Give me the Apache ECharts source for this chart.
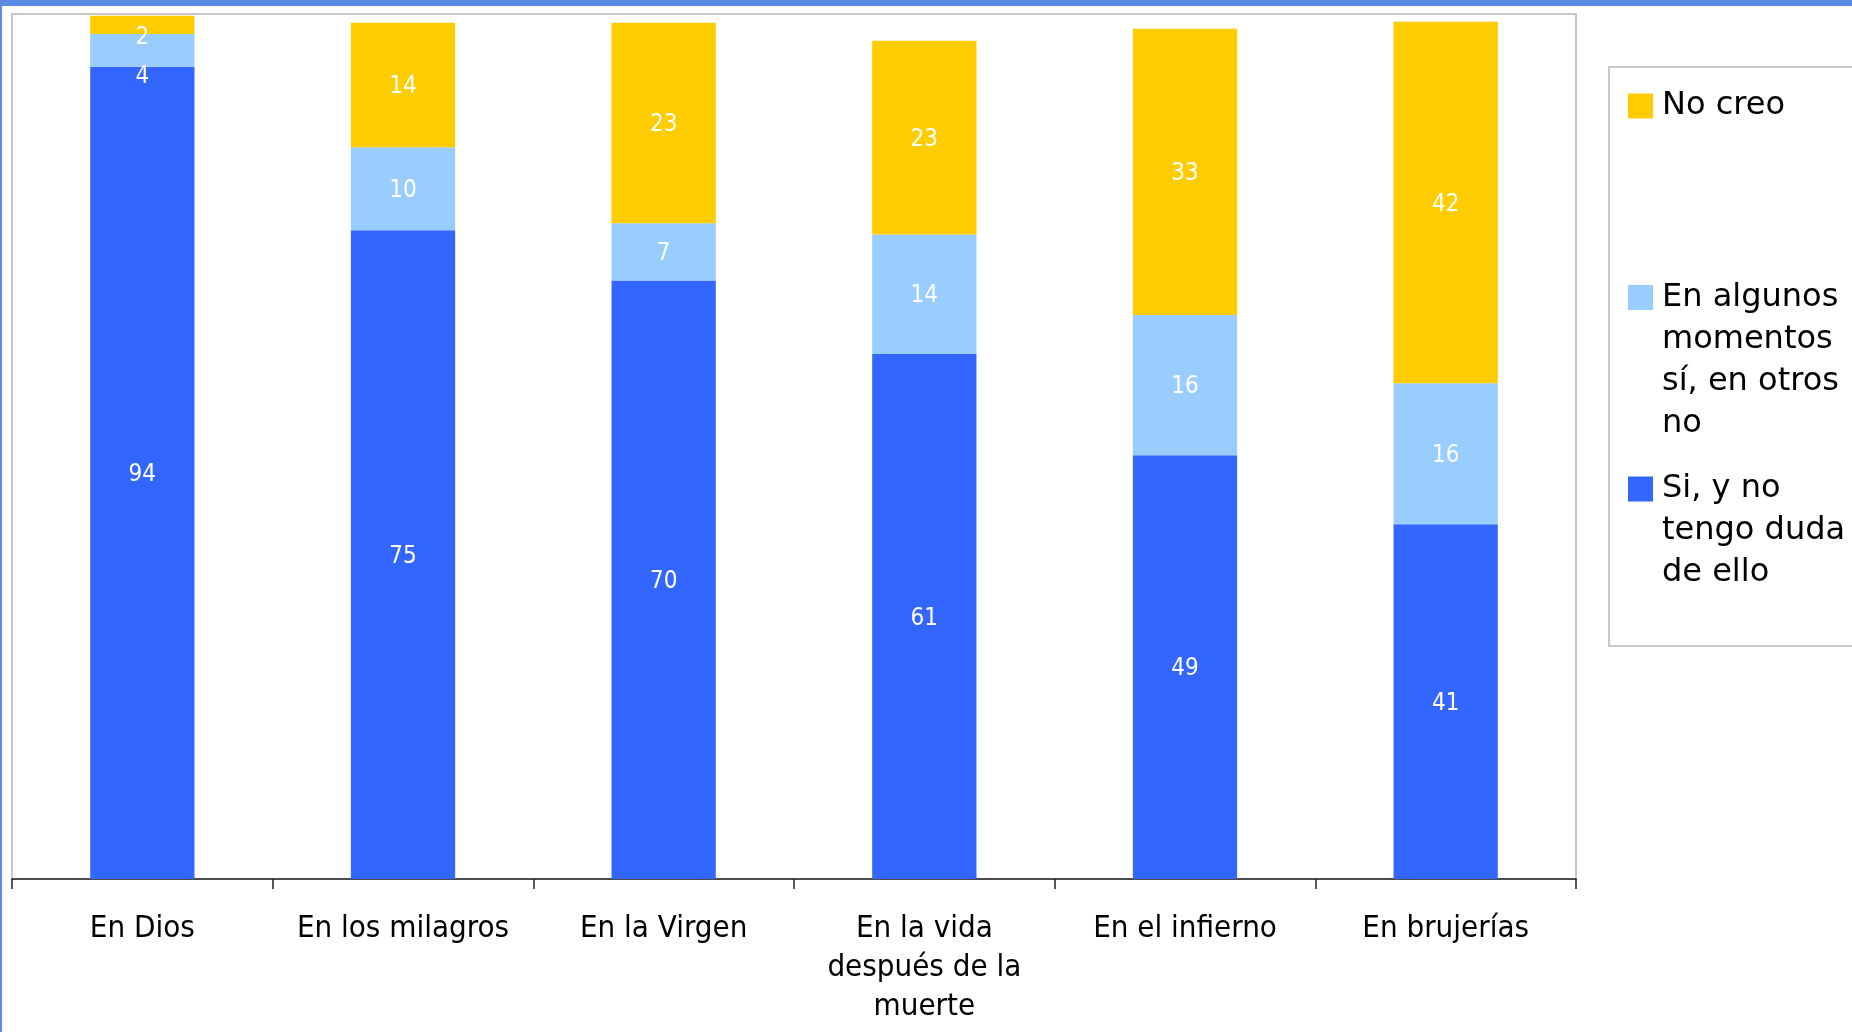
<!DOCTYPE html>
<html>
<head>
<meta charset="utf-8">
<script src="https://cdn.jsdelivr.net/npm/echarts@6/dist/echarts.min.js"></script>
<style>
  html, body { margin: 0; padding: 0; background: #ffffff; }
  #chart { width: 1852px; height: 1032px; }
</style>
</head>
<body>
<div id="chart"></div>
<script>
// ---- Data ----
const categories = [
  'En Dios',
  'En los milagros',
  'En la Virgen',
  'En la vida\ndespués de la\nmuerte',
  'En el infierno',
  'En brujerías'
];
const seriesNames = [
  'Si, y no tengo duda de ello',
  'En algunos momentos sí, en otros no',
  'No creo'
];
// Bar heights as drawn in the reference (percent)
const siValues      = [93.9, 75.0, 69.2, 60.7, 49.0, 41.0];
const algunosValues = [3.8, 9.6, 6.6, 13.8, 16.2, 16.3];
const noCreoValues  = [2.1, 14.4, 23.2, 22.4, 33.1, 41.8];
// Printed data labels in the reference
const siLabels      = [94, 75, 70, 61, 49, 41];
const algunosLabels = [4, 10, 7, 14, 16, 16];
const noCreoLabels  = [2, 14, 23, 23, 33, 42];

const colors = ['#3366FF', '#99CCFF', '#FFCC00'];
const labelFont = '"Liberation Sans Narrow", "DejaVu Sans Condensed", sans-serif';
const legendFont = '"DejaVu Sans", Verdana, sans-serif';

function makeData(values, firstShift) {
  return values.map(function (v, i) {
    if (i === 0 && firstShift) {
      return { value: v, label: { offset: [0, firstShift] } };
    }
    return v;
  });
}

function makeSeries(name, values, labels, color, firstShift) {
  return {
    name: name,
    type: 'bar',
    stack: 'total',
    barWidth: '40%',
    data: makeData(values, firstShift),
    itemStyle: { color: color },
    label: {
      show: true,
      position: 'inside',
      offset: [0, 2],
      color: '#ffffff',
      fontFamily: labelFont,
      fontSize: 24,
      formatter: function (p) { return String(labels[p.dataIndex]); }
    },
    emphasis: { disabled: true }
  };
}

const legendLineHeight = 42;
// The first text line of each legend entry sits beside its square marker.
function makeLegend(name, top, lines) {
  return {
    show: true,
    data: [name],
    orient: 'vertical',
    left: 1628,
    top: top,
    padding: 0,
    itemWidth: 25,
    itemHeight: 25,
    icon: 'rect',
    selectedMode: false,
    formatter: function (n) { return '\n'.repeat(lines - 1) + n; },
    textStyle: {
      fontFamily: legendFont,
      fontSize: 32,
      color: '#000000',
      lineHeight: legendLineHeight,
      width: 220,
      overflow: 'break',
      padding: [0, 0, 0, 4]
    }
  };
}

const chart = echarts.init(document.getElementById('chart'), null, { renderer: 'canvas' });
chart.setOption({
  animation: false,
  backgroundColor: '#ffffff',
  graphic: [
    { type: 'rect', left: 0, top: 0, shape: { width: 1852, height: 6 }, style: { fill: '#5B8BE3' }, silent: true },
    { type: 'rect', left: 0, top: 0, shape: { width: 2, height: 1032 }, style: { fill: '#5B8BE3' }, silent: true },
    { type: 'rect', shape: { x: 1609, y: 67, width: 300, height: 579 }, style: { fill: 'none', stroke: '#C8C8C8', lineWidth: 2 }, silent: true, z: -1 }
  ],
  legend: [
    makeLegend(seriesNames[2], 85, 1),
    makeLegend(seriesNames[1], 150.5, 4),
    makeLegend(seriesNames[0], 384, 3)
  ],
  grid: {
    left: 12,
    right: 276,
    top: 14,
    bottom: 153,
    show: true,
    borderColor: '#C8C8C8',
    borderWidth: 2,
    backgroundColor: 'transparent',
    containLabel: false,
    outerBoundsMode: 'none'
  },
  xAxis: {
    type: 'category',
    data: categories,
    boundaryGap: true,
    axisLine: { show: true, lineStyle: { color: '#222222', width: 1.5 } },
    axisTick: { show: true, length: 10, alignWithLabel: false, lineStyle: { color: '#222222', width: 1.5 } },
    axisLabel: {
      interval: 0,
      margin: 30,
      color: '#000000',
      fontFamily: labelFont,
      fontSize: 31,
      lineHeight: 39
    },
    splitLine: { show: false }
  },
  yAxis: {
    type: 'value',
    min: 0,
    max: 100,
    show: false,
    splitLine: { show: false }
  },
  series: [
    makeSeries(seriesNames[0], siValues, siLabels, colors[0], 0),
    makeSeries(seriesNames[1], algunosValues, algunosLabels, colors[1], 26),
    makeSeries(seriesNames[2], noCreoValues, noCreoLabels, colors[2], 13)
  ]
});
</script>
</body>
</html>
